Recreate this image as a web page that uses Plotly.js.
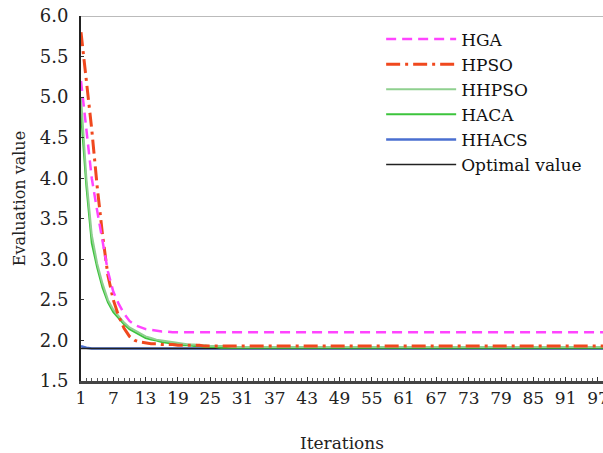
<!DOCTYPE html>
<html>
<head>
<meta charset="utf-8">
<script src="https://cdn.plot.ly/plotly-3.0.1.min.js"></script>
<style>html,body{margin:0;padding:0;background:#fff;}#chart{width:603px;height:453px;}</style>
</head>
<body>
<div id="chart"></div>
<script>
const seriesNames = ['HGA', 'HPSO', 'HHPSO', 'HACA', 'HHACS', 'Optimal value'];

const hga = [
5.2,4.6,4.0,3.6,3.2,2.85,2.6,2.45,2.33,2.24,
2.19,2.16,2.14,2.13,2.12,2.11,2.11,2.1,2.1,2.1,
2.1,2.1,2.1,2.1,2.1,2.1,2.1,2.1,2.1,2.1,
2.1,2.1,2.1,2.1,2.1,2.1,2.1,2.1,2.1,2.1,
2.1,2.1,2.1,2.1,2.1,2.1,2.1,2.1,2.1,2.1,
2.1,2.1,2.1,2.1,2.1,2.1,2.1,2.1,2.1,2.1,
2.1,2.1,2.1,2.1,2.1,2.1,2.1,2.1,2.1,2.1,
2.1,2.1,2.1,2.1,2.1,2.1,2.1,2.1,2.1,2.1,
2.1,2.1,2.1,2.1,2.1,2.1,2.1,2.1,2.1,2.1,
2.1,2.1,2.1,2.1,2.1,2.1,2.1,2.1];

const hpso = [
5.8,5.2,4.6,3.9,3.3,2.8,2.5,2.3,2.15,2.05,
2.0,1.98,1.97,1.96,1.96,1.95,1.95,1.95,1.94,1.94,
1.94,1.94,1.94,1.93,1.93,1.93,1.93,1.93,1.93,1.93,
1.93,1.93,1.93,1.93,1.93,1.93,1.93,1.93,1.93,1.93,
1.93,1.93,1.93,1.93,1.93,1.93,1.93,1.93,1.93,1.93,
1.93,1.93,1.93,1.93,1.93,1.93,1.93,1.93,1.93,1.93,
1.93,1.93,1.93,1.93,1.93,1.93,1.93,1.93,1.93,1.93,
1.93,1.93,1.93,1.93,1.93,1.93,1.93,1.93,1.93,1.93,
1.93,1.93,1.93,1.93,1.93,1.93,1.93,1.93,1.93,1.93,
1.93,1.93,1.93,1.93,1.93,1.93,1.93,1.93];

const hhpso = [
5.0,4.0,3.3,2.95,2.7,2.5,2.38,2.3,2.22,2.16,
2.12,2.08,2.05,2.03,2.01,2.0,1.99,1.98,1.97,1.96,
1.95,1.95,1.94,1.94,1.93,1.93,1.93,1.93,1.92,1.92,
1.92,1.92,1.92,1.92,1.92,1.92,1.92,1.92,1.92,1.92,
1.92,1.92,1.92,1.92,1.92,1.92,1.92,1.92,1.92,1.92,
1.92,1.92,1.92,1.92,1.92,1.92,1.92,1.92,1.92,1.92,
1.92,1.92,1.92,1.92,1.92,1.92,1.92,1.92,1.92,1.92,
1.92,1.92,1.92,1.92,1.92,1.92,1.92,1.92,1.92,1.92,
1.92,1.92,1.92,1.92,1.92,1.92,1.92,1.92,1.92,1.92,
1.92,1.92,1.92,1.92,1.92,1.92,1.92,1.92];

const haca = [
4.8,3.9,3.2,2.9,2.65,2.47,2.35,2.27,2.2,2.14,
2.1,2.06,2.03,2.01,2.0,1.98,1.97,1.96,1.95,1.94,
1.94,1.93,1.93,1.92,1.92,1.92,1.91,1.91,1.91,1.91,
1.91,1.91,1.91,1.91,1.91,1.91,1.91,1.91,1.91,1.91,
1.91,1.91,1.91,1.91,1.91,1.91,1.91,1.91,1.91,1.91,
1.91,1.91,1.91,1.91,1.91,1.91,1.91,1.91,1.91,1.91,
1.91,1.91,1.91,1.91,1.91,1.91,1.91,1.91,1.91,1.91,
1.91,1.91,1.91,1.91,1.91,1.91,1.91,1.91,1.91,1.91,
1.91,1.91,1.91,1.91,1.91,1.91,1.91,1.91,1.91,1.91,
1.91,1.91,1.91,1.91,1.91,1.91,1.91,1.91];

const hhacs = [
1.93,1.91,1.9,1.9,1.9,1.9,1.9,1.9,1.9,1.9,
1.9,1.9,1.9,1.9,1.9,1.9,1.9,1.9,1.9,1.9,
1.9,1.9,1.9,1.9,1.9,1.9,1.9,1.9,1.9,1.9,
1.9,1.9,1.9,1.9,1.9,1.9,1.9,1.9,1.9,1.9,
1.9,1.9,1.9,1.9,1.9,1.9,1.9,1.9,1.9,1.9,
1.9,1.9,1.9,1.9,1.9,1.9,1.9,1.9,1.9,1.9,
1.9,1.9,1.9,1.9,1.9,1.9,1.9,1.9,1.9,1.9,
1.9,1.9,1.9,1.9,1.9,1.9,1.9,1.9,1.9,1.9,
1.9,1.9,1.9,1.9,1.9,1.9,1.9,1.9,1.9,1.9,
1.9,1.9,1.9,1.9,1.9,1.9,1.9,1.9];

const optimal = [
1.9,1.9,1.9,1.9,1.9,1.9,1.9,1.9,1.9,1.9,
1.9,1.9,1.9,1.9,1.9,1.9,1.9,1.9,1.9,1.9,
1.9,1.9,1.9,1.9,1.9,1.9,1.9,1.9,1.9,1.9,
1.9,1.9,1.9,1.9,1.9,1.9,1.9,1.9,1.9,1.9,
1.9,1.9,1.9,1.9,1.9,1.9,1.9,1.9,1.9,1.9,
1.9,1.9,1.9,1.9,1.9,1.9,1.9,1.9,1.9,1.9,
1.9,1.9,1.9,1.9,1.9,1.9,1.9,1.9,1.9,1.9,
1.9,1.9,1.9,1.9,1.9,1.9,1.9,1.9,1.9,1.9,
1.9,1.9,1.9,1.9,1.9,1.9,1.9,1.9,1.9,1.9,
1.9,1.9,1.9,1.9,1.9,1.9,1.9,1.9];

const xTickVals = [1,7,13,19,25,31,37,43,49,55,61,67,73,79,85,91,97];
const yTickVals = [1.5,2.0,2.5,3.0,3.5,4.0,4.5,5.0,5.5,6.0];

const iterations = hga.map((_, i) => i + 1);
const font = '"DejaVu Serif", "Liberation Serif", serif';

const traces = [
  {y: hhacs, name: 'HHACS', line: {color: '#4a6fd0', width: 2.5}, legendrank: 5},
  {y: optimal, name: 'Optimal value', line: {color: '#222', width: 1.5}, legendrank: 6},
  {y: haca, name: 'HACA', line: {color: '#3cc43c', width: 2}, legendrank: 4},
  {y: hhpso, name: 'HHPSO', line: {color: '#8fd08f', width: 2}, legendrank: 3},
  {y: hpso, name: 'HPSO', line: {color: '#f0481e', width: 3, dash: '14px,5px,3px,5px'}, legendrank: 2},
  {y: hga, name: 'HGA', line: {color: '#ff44ff', width: 2.5, dash: '10px,6px'}, legendrank: 1}
].map(t => Object.assign({x: iterations, type: 'scatter', mode: 'lines'}, t));

const layout = {
  width: 603, height: 453,
  margin: {l: 81, r: 0, t: 16, b: 72},
  paper_bgcolor: '#fff', plot_bgcolor: '#fff',
  font: {family: font, size: 16, color: '#222'},
  showlegend: true,
  legend: {x: 0.575, y: 0.985, xanchor: 'left', yanchor: 'top', bgcolor: 'rgba(0,0,0,0)',
           font: {family: font, size: 17, color: '#111'}, itemwidth: 70, tracegroupgap: 0},
  xaxis: {
    range: [1, 97.93], tickmode: 'array', tickvals: xTickVals, ticktext: xTickVals.map(String),
    showgrid: false, zeroline: false, showline: true, linecolor: '#444', linewidth: 3,
    ticks: 'inside', ticklen: 4, tickcolor: '#333', ticklabeloverflow: 'allow',
    minor: {dtick: 1, tick0: 1, ticks: 'inside', ticklen: 3, tickcolor: '#555'},
    tickfont: {family: font, size: 17, color: '#222'},
    title: {text: 'Iterations', font: {family: font, size: 17, color: '#222'}, standoff: 36}
  },
  yaxis: {
    range: [1.5, 6.0], tickmode: 'array', tickvals: yTickVals, ticktext: yTickVals.map(v => v.toFixed(1)),
    showgrid: false, zeroline: false, showline: true, linecolor: '#222', linewidth: 2,
    ticks: 'inside', ticklen: 3, tickcolor: '#333', ticklabelstandoff: 7,
    tickfont: {family: font, size: 18, color: '#222'},
    title: {text: 'Evaluation value', font: {family: font, size: 16, color: '#222'}, standoff: 10}
  },
  shapes: [{type: 'line', xref: 'paper', yref: 'y', x0: 0, x1: 1, y0: 6.0, y1: 6.0,
            line: {color: '#bbb', width: 2}}]
};

Plotly.newPlot('chart', traces, layout, {displayModeBar: false, staticPlot: true});
</script>
</body>
</html>
